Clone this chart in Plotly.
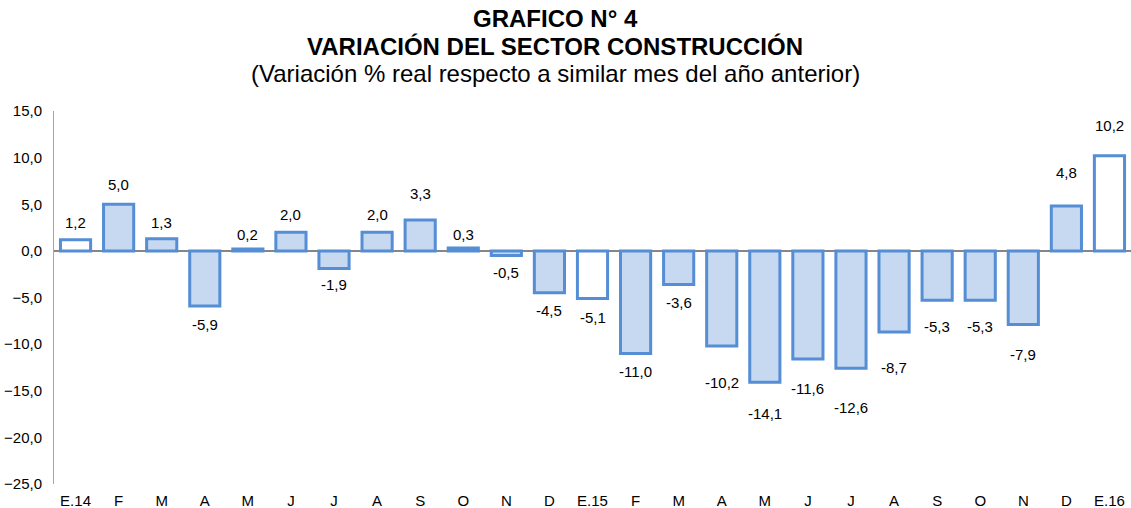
import plotly.graph_objects as go

categories = ["E.14", "F", "M", "A", "M", "J", "J", "A", "S", "O", "N", "D",
              "E.15", "F", "M", "A", "M", "J", "J", "A", "S", "O", "N", "D", "E.16"]
values = [1.2, 5.0, 1.3, -5.9, 0.2, 2.0, -1.9, 2.0, 3.3, 0.3, -0.5, -4.5,
          -5.1, -11.0, -3.6, -10.2, -14.1, -11.6, -12.6, -8.7, -5.3, -5.3, -7.9, 4.8, 10.2]
y_ticks = [15, 10, 5, 0, -5, -10, -15, -20, -25]

# label distance (px) from bar end, as placed in the original chart
label_gap = [17, 20, 16, 19, 15, 18, 16, 18, 27, 14, 17, 18,
             19, 18, 18, 37, 31, 29, 39, 35, 26, 26, 30, 34, 30]

W, H = 1131, 508
ML, MR, MT, MB = 54, 0, 111, 24
plot_h = H - MT - MB
plot_w = W - ML - MR

x = list(range(len(categories)))
fills = ["#FFFFFF" if c.startswith("E.") else "#C6D9F1" for c in categories]

fig = go.Figure()
fig.add_trace(go.Bar(
    x=x, y=values, width=0.7,
    marker=dict(color=fills, line=dict(color="#558ED5", width=3)),
    hoverinfo="skip",
))

for xi, v, g in zip(x, values, label_gap):
    fig.add_annotation(
        x=xi, y=v, xref="x", yref="y",
        text=f"{v:.1f}".replace(".", ","),
        showarrow=False,
        yshift=g if v >= 0 else -g,
        font=dict(family="Liberation Sans, Arial", size=15, color="#000000"),
    )

def py(px):
    return 1 + (MT - px) / plot_h

cx = (555 - ML) / plot_w
title_lines = [
    ("<b>GRAFICO N° 4</b>", 18),
    ("<b>VARIACIÓN DEL SECTOR CONSTRUCCIÓN</b>", 46),
    ("(Variación % real respecto a similar mes del año anterior)", 74),
]
for txt, ypx in title_lines:
    fig.add_annotation(
        x=cx, y=py(ypx), xref="paper", yref="paper",
        xanchor="center", yanchor="middle", showarrow=False,
        text=txt,
        font=dict(family="Liberation Sans, Arial", size=24, color="#000000"),
    )

fig.update_layout(
    width=W, height=H,
    margin=dict(l=ML, r=MR, t=MT, b=MB),
    paper_bgcolor="white", plot_bgcolor="white",
    showlegend=False,
    separators=",.",
    font=dict(family="Liberation Sans, Arial", size=15, color="#000000"),
    xaxis=dict(
        tickmode="array", tickvals=x, ticktext=categories,
        range=[-0.5, len(categories) - 0.5],
        showline=False, showgrid=False, zeroline=False, ticks="",
        tickfont=dict(size=15), ticklabelstandoff=6,
    ),
    yaxis=dict(
        range=[-25, 15], tickvals=y_ticks, tickformat=".1f",
        showline=True, linecolor="#A6A6A6", linewidth=1,
        showgrid=False, zeroline=True, zerolinecolor="#868686", zerolinewidth=1.5,
        ticks="", tickfont=dict(size=15), ticklabelstandoff=8,
    ),
)

fig.write_html("out.html", config={"displayModeBar": False},
               post_script="document.body.style.margin='0';document.body.style.overflow='hidden';")
